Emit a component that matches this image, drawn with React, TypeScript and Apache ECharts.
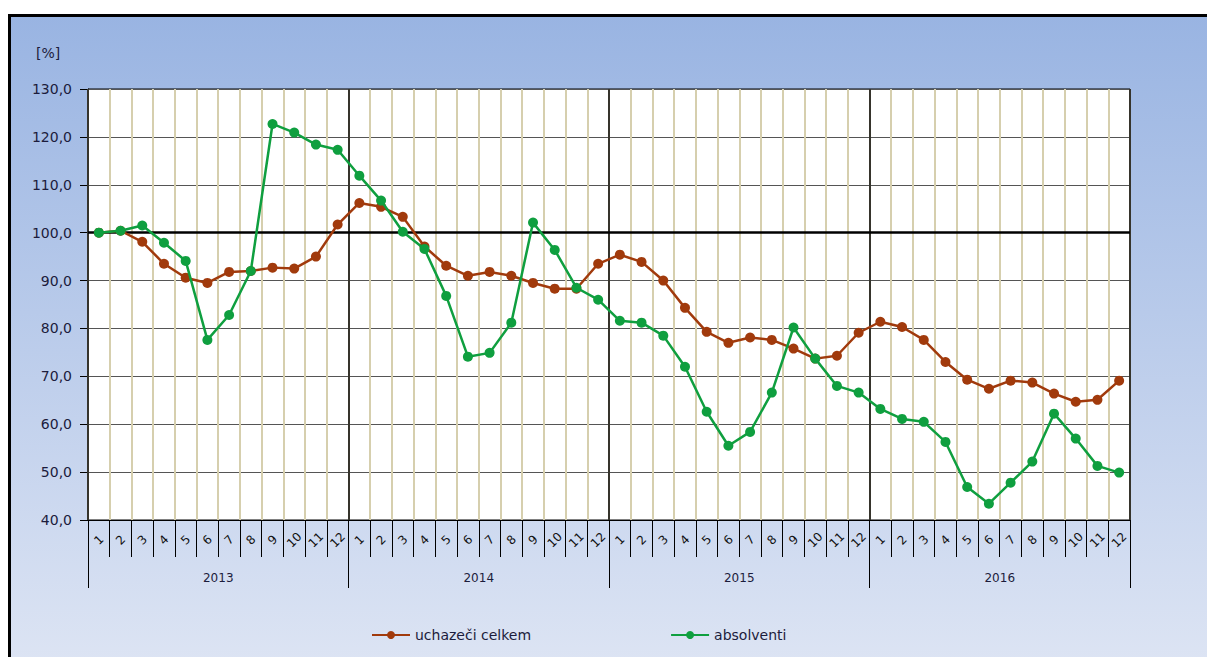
import React, { useEffect, useRef } from "react";
import * as echarts from "echarts";

const years = ["2013", "2014", "2015", "2016"];
const monthNames = ["1", "2", "3", "4", "5", "6", "7", "8", "9", "10", "11", "12"];
const months: string[] = [];
years.forEach(() => monthNames.forEach((m) => months.push(m)));

const uchazeciCelkem = [
  100.0, 100.4, 98.1, 93.5, 90.6, 89.5, 91.8, 92.0, 92.7, 92.5, 95.0, 101.7,
  106.2, 105.4, 103.3, 97.1, 93.1, 91.0, 91.8, 91.0, 89.5, 88.3, 88.3, 93.5,
  95.4, 93.9, 90.0, 84.3, 79.3, 77.0, 78.1, 77.6, 75.8, 73.7, 74.3, 79.1,
  81.4, 80.3, 77.6, 73.0, 69.3, 67.4, 69.1, 68.7, 66.4, 64.7, 65.1, 69.1,
];
const absolventi = [
  100.0, 100.4, 101.5, 97.9, 94.1, 77.6, 82.8, 92.0, 122.7, 120.9, 118.4, 117.3,
  111.9, 106.7, 100.2, 96.6, 86.8, 74.1, 74.9, 81.2, 102.1, 96.4, 88.5, 86.0,
  81.6, 81.2, 78.5, 72.0, 62.6, 55.5, 58.4, 66.6, 80.2, 73.7, 68.0, 66.6,
  63.2, 61.1, 60.5, 56.3, 46.9, 43.4, 47.8, 52.2, 62.2, 57.0, 51.3, 49.9,
];
const seriesNames = ["uchazeči celkem", "absolventi"];
const unitLabel = "[%]";

const FONT = "DejaVu Sans";
const BROWN = "#a13a0c";
const GREEN = "#0f9f3f";
const TEXT = "#1c1c3c";

export default function App() {
  const ref = useRef<HTMLDivElement>(null);
  useEffect(() => {
    if (!ref.current) return;
    const chart = echarts.init(ref.current, null, { renderer: "svg" });
    chart.setOption({
      animation: false,
      textStyle: { fontFamily: FONT },
      graphic: {
        elements: [
          {
            type: "rect",
            z: -100,
            silent: true,
            shape: { x: 9.5, y: 15.5, width: 1300, height: 700 },
            style: {
              fill: new echarts.graphic.LinearGradient(0, 0, 0, 1, [
                { offset: 0, color: "#99b4e2" },
                { offset: 1, color: "#e2e8f5" },
              ]),
              stroke: "#000",
              lineWidth: 3,
            },
          },
          {
            type: "text",
            left: 36,
            top: 46,
            style: { text: unitLabel, font: `14px '${FONT}'`, fill: TEXT },
          },
        ],
      },
      legend: {
        left: 366,
        top: 623,
        itemWidth: 38,
        itemHeight: 10,
        itemGap: 139,
        data: seriesNames,
        textStyle: { fontSize: 14, color: TEXT, fontFamily: FONT },
      },
      grid: {
        left: 88,
        top: 89,
        right: 77,
        bottom: 137,
        show: true,
        backgroundColor: "#ffffff",
        borderColor: "#000",
        borderWidth: 1,
      },
      xAxis: [
        {
          type: "category",
          data: months,
          boundaryGap: true,
          axisLine: { show: true, lineStyle: { color: "#000", width: 1 } },
          axisTick: { show: true, interval: 0, length: 37, lineStyle: { color: "#000" } },
          axisLabel: {
            interval: 0,
            rotate: 45,
            align: "center",
            verticalAlign: "middle",
            margin: 20,
            fontSize: 12,
            color: "#111",
          },
          splitLine: { show: true, interval: 0, lineStyle: { color: "#d6cfae", width: 2 } },
          z: 1,
        },
        {
          type: "category",
          data: years,
          position: "bottom",
          boundaryGap: true,
          axisLine: { show: false },
          axisTick: { show: true, interval: 0, length: 68, lineStyle: { color: "#000" } },
          axisLabel: { interval: 0, margin: 52, fontSize: 12, color: TEXT },
          splitLine: { show: true, interval: 0, lineStyle: { color: "#000", width: 1.5 } },
          z: 2,
        },
      ],
      yAxis: {
        type: "value",
        min: 40,
        max: 130,
        interval: 10,
        axisLine: { show: true, lineStyle: { color: "#000" } },
        axisTick: { show: true, length: 8, lineStyle: { color: "#000" } },
        axisLabel: {
          margin: 16,
          fontSize: 14,
          color: TEXT,
          formatter: (v: number) => v.toFixed(1).replace(".", ","),
        },
        splitLine: { show: true, lineStyle: { color: "#555", width: 1 } },
      },
      series: [
        {
          name: seriesNames[0],
          type: "line",
          data: uchazeciCelkem,
          symbol: "circle",
          symbolSize: 10,
          lineStyle: { color: BROWN, width: 2.5 },
          itemStyle: { color: BROWN },
          z: 5,
          markLine: {
            silent: true,
            symbol: "none",
            label: { show: false },
            lineStyle: { color: "#000", width: 2.5, type: "solid" },
            data: [{ yAxis: 100 }],
            z: 3,
          },
        },
        {
          name: seriesNames[1],
          type: "line",
          data: absolventi,
          symbol: "circle",
          symbolSize: 10,
          lineStyle: { color: GREEN, width: 2.5 },
          itemStyle: { color: GREEN },
          z: 6,
        },
      ],
    });
    return () => chart.dispose();
  }, []);
  return (
    <div
      ref={ref}
      style={{ position: "absolute", left: 0, top: 0, width: 1207, height: 657, background: "#fff" }}
    />
  );
}
